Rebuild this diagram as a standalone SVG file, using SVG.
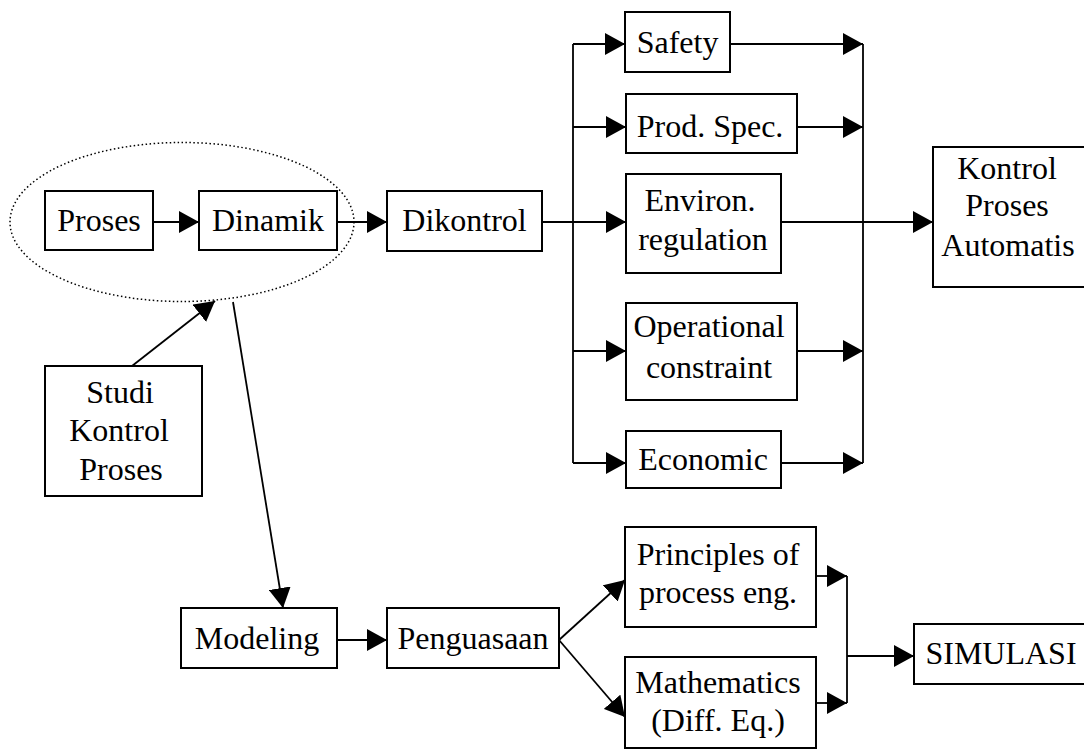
<svg xmlns="http://www.w3.org/2000/svg" width="1084" height="751" viewBox="0 0 1084 751">
<defs>
<marker id="ah" markerUnits="userSpaceOnUse" markerWidth="20" markerHeight="22" refX="20" refY="11" orient="auto">
<path d="M0,0 L20,11 L0,22 z" fill="#000"/>
</marker>
<style>
.box{fill:#fff;stroke:#000;stroke-width:2}
.t{font-family:"Liberation Serif","Times New Roman",serif;font-size:32px;fill:#000;text-anchor:middle}
.c{fill:none;stroke:#000;stroke-width:1.8}
.a{fill:none;stroke:#000;stroke-width:1.8;marker-end:url(#ah)}
</style>
</defs>
<rect width="1084" height="751" fill="#fff"/>
<g id="connectors">
<line class="a" x1="147" y1="222" x2="199" y2="222"/>
<line class="a" x1="335" y1="222" x2="387" y2="222"/>
<line class="a" x1="542" y1="222" x2="626" y2="222"/>
<line class="c" x1="573" y1="44" x2="573" y2="463"/>
<line class="a" x1="573" y1="44" x2="625" y2="44"/>
<line class="a" x1="573" y1="127" x2="626" y2="127"/>
<line class="a" x1="573" y1="351" x2="626" y2="351"/>
<line class="a" x1="573" y1="463" x2="626" y2="463"/>
<line class="c" x1="863" y1="44" x2="863" y2="463"/>
<line class="a" x1="730" y1="44" x2="863" y2="44"/>
<line class="a" x1="797" y1="127" x2="863" y2="127"/>
<line class="a" x1="797" y1="351" x2="863" y2="351"/>
<line class="a" x1="781" y1="463" x2="863" y2="463"/>
<line class="a" x1="781" y1="222" x2="933" y2="222"/>
<line class="a" x1="132" y1="366" x2="215" y2="301"/>
<line class="a" x1="233" y1="302" x2="283" y2="608"/>
<line class="a" x1="336" y1="640" x2="387" y2="640"/>
<line class="a" x1="559" y1="640" x2="625" y2="580"/>
<line class="a" x1="559" y1="640" x2="625" y2="717"/>
<line class="a" x1="816" y1="576" x2="847" y2="576"/>
<line class="a" x1="816" y1="703" x2="847" y2="703"/>
<line class="c" x1="847" y1="576" x2="847" y2="703"/>
<line class="a" x1="847" y1="656" x2="914" y2="656"/>
</g>
<g id="proses"><rect class="box" x="45" y="191" width="108" height="59"/><text class="t" x="99" y="231">Proses</text></g>
<g id="dinamik"><rect class="box" x="199" y="191" width="138" height="59"/><text class="t" x="268" y="231">Dinamik</text></g>
<g id="group-ellipse"><ellipse cx="182" cy="222" rx="172" ry="79.5" fill="none" stroke="#000" stroke-width="1.5" stroke-dasharray="1.5 2.5"/></g>
<g id="dikontrol"><rect class="box" x="387" y="191" width="155" height="60"/><text class="t" x="464.5" y="231">Dikontrol</text></g>
<g id="safety"><rect class="box" x="625" y="12" width="105" height="60"/><text class="t" x="677.5" y="53">Safety</text></g>
<g id="prodspec"><rect class="box" x="626" y="94" width="171" height="59"/><text class="t" x="710" y="137">Prod. Spec.</text></g>
<g id="environ"><rect class="box" x="626" y="174" width="155" height="99"/><text class="t" x="700" y="211">Environ.</text><text class="t" x="703" y="250">regulation</text></g>
<g id="operational"><rect class="box" x="626" y="303" width="171" height="97"/><text class="t" x="709" y="337">Operational</text><text class="t" x="709" y="378">constraint</text></g>
<g id="economic"><rect class="box" x="626" y="431" width="155" height="57"/><text class="t" x="703" y="470">Economic</text></g>
<g id="kontrol"><rect class="box" x="933" y="147" width="160" height="140"/><text class="t" x="1007" y="179">Kontrol</text><text class="t" x="1007" y="216">Proses</text><text class="t" x="1008" y="256">Automatis</text></g>
<g id="studi"><rect class="box" x="45" y="366" width="157" height="130"/><text class="t" x="120" y="403">Studi</text><text class="t" x="119" y="441">Kontrol</text><text class="t" x="121" y="480">Proses</text></g>
<g id="modeling"><rect class="box" x="181" y="608" width="156" height="60"/><text class="t" x="257" y="649">Modeling</text></g>
<g id="penguasaan"><rect class="box" x="387" y="608" width="172" height="60"/><text class="t" x="473" y="649">Penguasaan</text></g>
<g id="principles"><rect class="box" x="625" y="527" width="191" height="100"/><text class="t" x="718" y="565">Principles of</text><text class="t" x="718" y="603">process eng.</text></g>
<g id="mathematics"><rect class="box" x="625" y="657" width="191" height="91"/><text class="t" x="718" y="693">Mathematics</text><text class="t" x="718" y="731">(Diff. Eq.)</text></g>
<g id="simulasi"><rect class="box" x="914" y="624" width="190" height="60"/><text class="t" x="1001" y="664">SIMULASI</text></g>
</svg>
